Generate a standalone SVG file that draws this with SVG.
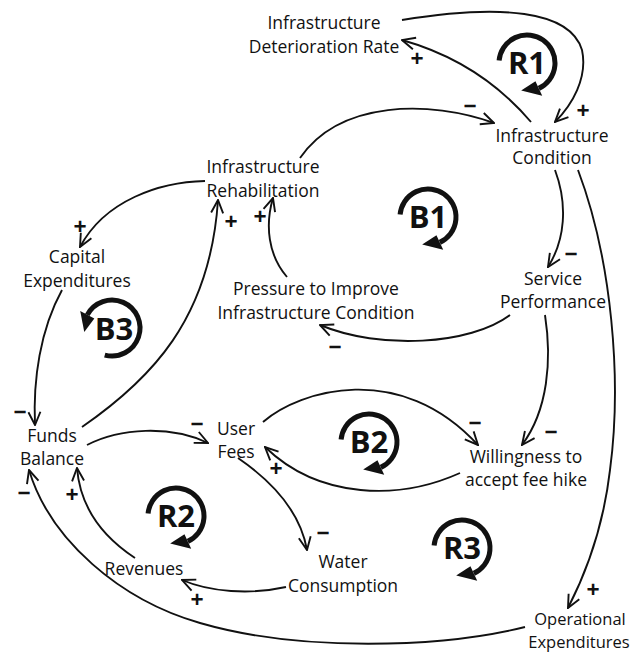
<svg xmlns="http://www.w3.org/2000/svg" width="633" height="653" viewBox="0 0 633 653">
<defs>
<style>
.n text { font-family: "Open Sans", "Liberation Sans", sans-serif; font-size: 17.5px; fill: #111; text-anchor: middle; }
.lk { fill: none; stroke: #111; stroke-width: 1.9; marker-end: url(#ah); }
.sg { font-family: "Open Sans", "Liberation Sans", sans-serif; font-size: 23px; font-weight: bold; fill: #111; text-anchor: middle; }
.arc { fill: none; stroke: #111; stroke-width: 5; }
.ahd { fill: #111; stroke: none; }
.lp { font-family: "Open Sans", "Liberation Sans", sans-serif; font-weight: bold; font-size: 31px; fill: #111; text-anchor: middle; }
</style>
<marker id="ah" viewBox="0 0 15 15" refX="14" refY="7.5" markerWidth="15" markerHeight="15" markerUnits="userSpaceOnUse" orient="auto">
<path d="M1,1.5 L14,7.5 L1,13.5" fill="none" stroke="#111" stroke-width="1.9"/>
</marker>
<g id="cw">
<path class="arc" d="M-27.9,-2.44 A28,28 0 1 1 11.83,25.38"/>
<polygon class="ahd" points="8.45,18.13 15.21,32.63 -5.82,27.39"/>
</g>
<g id="ccw">
<path class="arc" d="M-7.25,27.05 A28,28 0 1 0 -24.72,-13.15"/>
<polygon class="ahd" points="-17.66,-9.39 -31.79,-16.90 -27.73,3.90"/>
</g>
</defs>
<rect width="633" height="653" fill="#fff"/>

<g id="connectors">
<path class="lk" d="M531,122 Q480,62 402,40"/>
<path class="lk" d="M402,20 C500,4 570,10 582,50 C588,78 572,105 555,122"/>
<path class="lk" d="M300,158 C340,100 430,100 494,123"/>
<path class="lk" d="M555,170 C568,205 565,240 548,267"/>
<path class="lk" d="M578,170 C612,260 622,380 610,470 C603,530 585,575 568,608"/>
<path class="lk" d="M510,315 C470,345 380,350 320,325"/>
<path class="lk" d="M545,315 C552,360 548,410 522,445"/>
<path class="lk" d="M287,277 C268,255 265,225 273,198"/>
<path class="lk" d="M205,181 C160,182 105,200 80,247"/>
<path class="lk" d="M62,290 C40,330 33,380 35,425"/>
<path class="lk" d="M82,427 C150,380 210,320 218,200"/>
<path class="lk" d="M87,445 C120,428 170,425 208,443"/>
<path class="lk" d="M263,422 C300,390 400,360 478,445"/>
<path class="lk" d="M460,473 C400,500 320,500 265,447"/>
<path class="lk" d="M238,458 C270,480 300,510 307,550"/>
<path class="lk" d="M286,587 C250,595 210,592 182,580"/>
<path class="lk" d="M135,558 C100,535 80,505 77,468"/>
<path class="lk" d="M525,627 C440,648 300,652 200,623 C120,600 50,540 29,470"/>
</g>

<g id="signs">
<text class="sg" x="417" y="67">+</text>
<text class="sg" x="583" y="119">+</text>
<text class="sg" x="470" y="114">−</text>
<text class="sg" x="231" y="230">+</text>
<text class="sg" x="260" y="225">+</text>
<text class="sg" x="80" y="235">+</text>
<text class="sg" x="571" y="262">−</text>
<text class="sg" x="335" y="355">−</text>
<text class="sg" x="20" y="420">−</text>
<text class="sg" x="197" y="432">−</text>
<text class="sg" x="475" y="431">−</text>
<text class="sg" x="551" y="440">−</text>
<text class="sg" x="276" y="477">+</text>
<text class="sg" x="24" y="501">−</text>
<text class="sg" x="72" y="503">+</text>
<text class="sg" x="323" y="541">−</text>
<text class="sg" x="197" y="608">+</text>
<text class="sg" x="593" y="598">+</text>
</g>

<g id="loops">
<use href="#cw" x="527" y="63"/><text class="lp" x="527" y="74">R1</text>
<use href="#cw" x="428" y="217"/><text class="lp" x="428" y="228">B1</text>
<use href="#ccw" x="112" y="328"/><text class="lp" x="114" y="340">B3</text>
<use href="#cw" x="369" y="442"/><text class="lp" x="369" y="453">B2</text>
<use href="#cw" x="176" y="516"/><text class="lp" x="176" y="527">R2</text>
<use href="#cw" x="462" y="548"/><text class="lp" x="462" y="559">R3</text>
</g>

<g id="idr" class="n"><text x="324" y="29">Infrastructure</text><text x="324" y="53">Deterioration Rate</text></g>
<g id="ic" class="n"><text x="552" y="142">Infrastructure</text><text x="552" y="164">Condition</text></g>
<g id="rehab" class="n"><text x="263" y="173">Infrastructure</text><text x="263" y="197">Rehabilitation</text></g>
<g id="capex" class="n"><text x="77" y="263">Capital</text><text x="77" y="287">Expenditures</text></g>
<g id="pressure" class="n"><text x="316" y="295">Pressure to Improve</text><text x="316" y="319">Infrastructure Condition</text></g>
<g id="service" class="n"><text x="553" y="285">Service</text><text x="553" y="308">Performance</text></g>
<g id="funds" class="n"><text x="52" y="442">Funds</text><text x="52" y="465">Balance</text></g>
<g id="fees" class="n"><text x="236" y="435">User</text><text x="236" y="458">Fees</text></g>
<g id="will" class="n"><text x="526" y="463">Willingness to</text><text x="526" y="486">accept fee hike</text></g>
<g id="water" class="n"><text x="343" y="568">Water</text><text x="343" y="592">Consumption</text></g>
<g id="rev" class="n"><text x="144" y="575">Revenues</text></g>
<g id="opex" class="n"><text x="580" y="625" style="font-size:16.5px">Operational</text><text x="579" y="648" style="font-size:16.5px">Expenditures</text></g>
</svg>
